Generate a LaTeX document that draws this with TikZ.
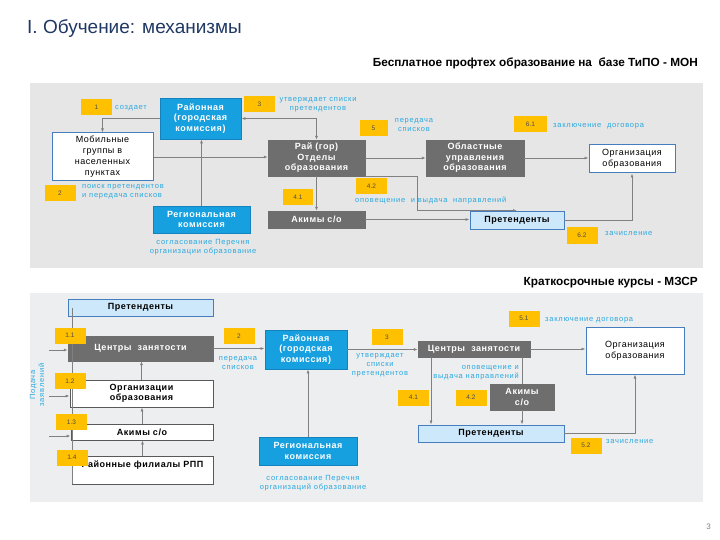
\documentclass[tikz,border=0pt]{standalone}
\usepackage{fontspec}
\setmainfont{Liberation Sans}
\newfontfamily\lblfont[LetterSpace=10]{Liberation Sans}
\newfontfamily\boxfont[LetterSpace=6]{Liberation Sans}
\usetikzlibrary{arrows.meta}
\definecolor{bluefill}{RGB}{22,160,224}
\definecolor{bluedark}{RGB}{20,130,190}
\definecolor{grayfill}{RGB}{110,110,110}
\definecolor{lightblue}{RGB}{205,232,250}
\definecolor{borderblue}{RGB}{70,125,190}
\definecolor{badgeyellow}{RGB}{255,192,0}
\definecolor{labelblue}{RGB}{40,168,224}
\definecolor{arrgray}{RGB}{128,128,128}
\definecolor{titleblue}{RGB}{31,56,100}
\definecolor{panelA}{RGB}{230,230,230}
\definecolor{panelB}{RGB}{237,238,240}
\tikzset{
  box/.style={draw, inner sep=1pt, align=center, font=\boxfont\fontsize{9}{10.5}\selectfont\bfseries},
  bluebox/.style={box, fill=bluefill, draw=bluedark, line width=0.8pt, text=white},
  graybox/.style={box, fill=grayfill, draw=grayfill, text=white},
  whitebox/.style={box, fill=white, draw=borderblue, line width=1pt, text=black, font=\boxfont\fontsize{9}{11}\selectfont},
  plainbox/.style={box, fill=white, draw=black!65, line width=0.8pt, text=black},
  lightbox/.style={box, fill=lightblue, draw=borderblue, line width=0.9pt, text=black},
  badge/.style={fill=badgeyellow, minimum width=31pt, minimum height=16pt, inner sep=0pt, font=\fontsize{6.5}{7}\selectfont, text=black!70},
  lbl/.style={text=labelblue, font=\lblfont\fontsize{7.5}{9}\selectfont, align=center, inner sep=0pt},
  arr/.style={draw=arrgray, line width=0.8pt, -{Latex[length=4pt,width=3pt]}},
  arrboth/.style={draw=arrgray, line width=0.8pt, {Latex[length=4pt,width=3pt]}-{Latex[length=4pt,width=3pt]}},
  plainline/.style={draw=arrgray, line width=0.8pt},
}
\begin{document}
\begin{tikzpicture}[x=1pt,y=-1pt]
\useasboundingbox (0,0) rectangle (720,540);
\fill[white] (0,0) rectangle (720,540);
% title
\node[anchor=west, inner sep=0pt, text=titleblue, font=\fontsize{19}{21}\selectfont] (title) at (27,29) {I. Обучение: механизмы};
\node[anchor=east, inner sep=0pt, font=\fontsize{11.8}{13}\selectfont\bfseries] (h1) at (698,63) {Бесплатное профтех образование на \ базе ТиПО - МОН};
\node[anchor=east, inner sep=0pt, font=\fontsize{11.8}{13}\selectfont\bfseries] (h2) at (698,283) {Краткосрочные курсы - МЗСР};
\node[anchor=east, inner sep=0pt, text=black!50, font=\fontsize{8}{9}\selectfont] (pg) at (711,527) {3};
% panels
\fill[panelA] (30,83) rectangle (703,268);
\fill[panelB] (30,293) rectangle (703,502);

% ===== top panel =====
\node[bluebox, minimum width=81pt, minimum height=41pt] (rk) at (200.5,118.5) {Районная\\(городская\\комиссия)};
\node[whitebox, minimum width=101pt, minimum height=48pt] (mob) at (102.5,157) {Мобильные\\группы в\\населенных\\пунктах};
\node[bluebox, minimum width=97pt, minimum height=27pt] (reg) at (201.5,219.5) {Региональная\\комиссия};
\node[graybox, minimum width=97pt, minimum height=36pt] (otd) at (316.5,158) {Рай (гор)\\Отделы\\образования};
\node[graybox, minimum width=97pt, minimum height=17pt] (akim) at (316.5,219.5) {Акимы с/о};
\node[graybox, minimum width=98pt, minimum height=36pt] (obl) at (475,158) {Областные\\управления\\образования};
\node[whitebox, minimum width=86pt, minimum height=28pt] (org) at (632,159) {Организация\\образования};
\node[lightbox, minimum width=94pt, minimum height=18pt] (pret) at (517,220) {Претенденты};

\draw[arr] (rk.west) -| (mob.north);
\draw[arr] (mob.east) -- (mob.east -| otd.west);
\draw[arr] (reg.north) -- (reg.north |- rk.south);
\draw[arrboth] (rk.east) -| (otd.north);
\draw[arr] (otd.east) -- (obl.west);
\draw[arr] (obl.east) -- (obl.east -| org.west);
\draw[arr] (otd.south) -- (akim.north);
\draw[arr] (otd.south east) -- ++(52,0) |- (pret.north);
\draw[arr] (akim.east) -- (akim.east -| pret.west);
\draw[arr] (pret.east) -| (org.south);

\node[badge] (b1) at (96.5,107) {1};
\node[lbl, anchor=west] (t1) at (115,108) {создает};
\node[badge] (b3) at (259.5,104.5) {3};
\node[lbl] (t3) at (318,105) {утверждает списки\\претендентов};
\node[badge] (b2) at (60,193.5) {2};
\node[lbl, anchor=west, align=left] (t2) at (82,192) {поиск претендентов\\и передача списков};
\node[badge, minimum width=28pt] (b5) at (373.5,128) {5};
\node[lbl] (t5) at (414,125) {передача\\списков};
\node[badge, minimum width=30pt] (b41) at (298,197) {4.1};
\node[badge] (b42) at (371.5,186.5) {4.2};
\node[lbl, anchor=west] (t42) at (355,200) {оповещение \ и выдача \ направлений};
\node[badge, minimum width=33pt] (b61) at (530.5,124.5) {6.1};
\node[lbl, anchor=west] (t61) at (553,126) {заключение \ договора};
\node[badge] (b62) at (582,235.5) {6.2};
\node[lbl, anchor=west] (t62) at (605,234) {зачисление};
\node[lbl] (treg) at (203,247) {согласование Перечня\\организации образование};

% ===== bottom panel =====
\node[lightbox, minimum width=145pt, minimum height=17pt] (pret1) at (140.5,307.5) {Претенденты};
\node[graybox, minimum width=145pt, minimum height=25pt] (cz1) at (140.5,348.5) {Центры \ занятости};
\node[plainbox, minimum width=143pt, minimum height=27pt] (oo) at (141.5,393.5) {Организации\\образования};
\node[plainbox, minimum width=142pt, minimum height=16pt] (ak1) at (142,432) {Акимы с/о};
\node[plainbox, minimum width=141pt, minimum height=28pt, inner sep=2pt, text height=7pt, text depth=13pt] (rpp) at (142.5,470) {Районные филиалы РПП};

\coordinate (vt) at (72,308);
\coordinate (vb) at (72,484);
\draw[plainline] (vt) -- (vb);
\coordinate (in1) at (49,350);
\coordinate (in2) at (49,396);
\coordinate (in3) at (49,436);
\draw[arr] (in1) -- (in1 -| cz1.west);
\draw[arr] (in2) -- (in2 -| oo.west);
\draw[arr] (in3) -- (in3 -| ak1.west);
\node[lbl, rotate=90] (tpod) at (37,385) {Подача\\заявлений};

\draw[arr] (rpp.north) -- (rpp.north |- ak1.south);
\draw[arr] (ak1.north) -- (ak1.north |- oo.south);
\draw[arr] (oo.north) -- (oo.north |- cz1.south);

\node[bluebox, minimum width=82pt, minimum height=39pt] (rk2) at (306,349.5) {Районная\\(городская\\комиссия)};
\node[bluebox, minimum width=98pt, minimum height=28pt] (reg2) at (308,451) {Региональная\\комиссия};
\draw[arr] (reg2.north) -- (reg2.north |- rk2.south);
\draw[arr] (cz1.east) -- (cz1.east -| rk2.west);

\node[graybox, minimum width=112pt, minimum height=16pt] (cz2) at (474,349) {Центры \ занятости};
\node[whitebox, minimum width=98pt, minimum height=47pt] (org2) at (635,350.5) {Организация\\образования};
\node[graybox, minimum width=64pt, minimum height=26pt] (ak2) at (522,397) {Акимы\\с/о};
\node[lightbox, minimum width=146pt, minimum height=17pt] (pret2) at (491,433.5) {Претенденты};

\draw[arr] (rk2.east) -- (rk2.east -| cz2.west);
\draw[arr] (cz2.east) -- (cz2.east -| org2.west);
\draw[arr] ([xshift=-43pt]cz2.south) -- ([xshift=-43pt]cz2.south |- pret2.north);
\draw[plainline] (cz2.south -| ak2.north) -- (ak2.north);
\draw[arr] (ak2.south) -- (ak2.south |- pret2.north);
\draw[arr] (pret2.east) -| (org2.south);

\node[badge] (b11) at (70,335.5) {1.1};
\node[badge] (b12) at (70,381) {1.2};
\node[badge] (b13) at (71.5,422) {1.3};
\node[badge] (b14) at (72,457.5) {1.4};
\node[badge] (b2b) at (239,336) {2};
\node[lbl] (t2b) at (238,363) {передача\\списков};
\node[badge] (b3b) at (387,337) {3};
\node[lbl] (t3b) at (380,365) {утверждает\\списки\\претендентов};
\node[badge] (b51) at (524,318.5) {5.1};
\node[lbl, anchor=west] (t51) at (545,320) {заключение договора};
\node[badge] (b41b) at (413.5,397.5) {4.1};
\node[badge] (b42b) at (471,397.5) {4.2};
\node[lbl, anchor=east, align=right] (t42b) at (519,372.5) {оповещение и\\выдача направлений};
\node[badge] (b52) at (586,445.5) {5.2};
\node[lbl, anchor=west] (t52) at (606,442) {зачисление};
\node[lbl] (treg2) at (313,483) {согласование Перечня\\организаций образование};
\end{tikzpicture}
\end{document}
